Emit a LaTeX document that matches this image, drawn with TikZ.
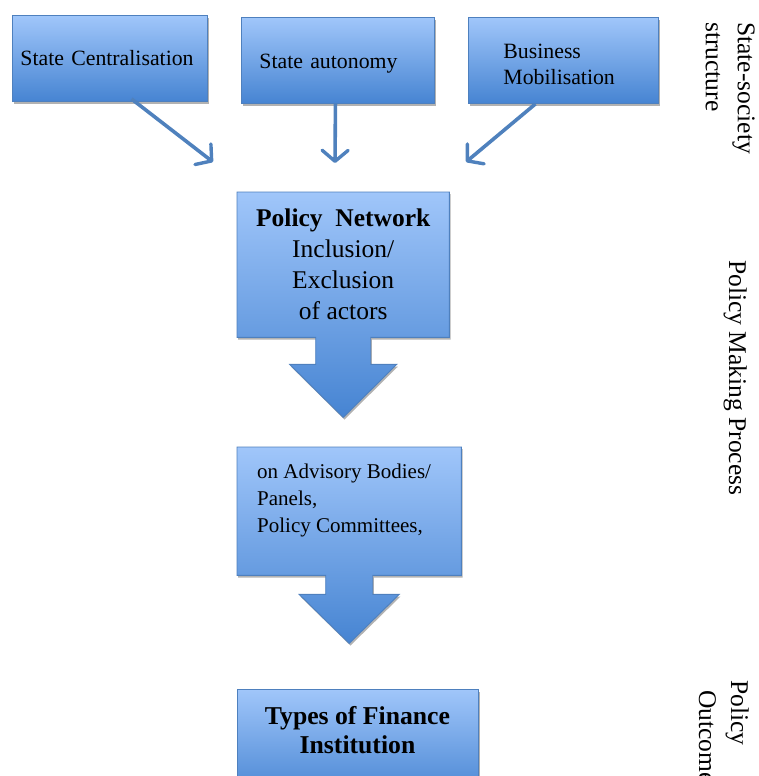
\documentclass[tikz,border=0pt]{standalone}
\usepackage{fontspec}
\setmainfont{Liberation Serif}
\usetikzlibrary{arrows.meta,shadows,calc,backgrounds}
\definecolor{boxtop}{RGB}{160,198,250}
\definecolor{boxbot}{RGB}{70,132,210}
\definecolor{boxedge}{RGB}{78,128,190}
\definecolor{arrowblue}{RGB}{79,129,189}
\tikzset{
  softshadow/.style={drop shadow={shadow xshift=1.2pt, shadow yshift=-2.2pt, opacity=0.3, fill=black}},
  bluebox/.style={draw=boxedge, line width=0.9pt, top color=boxtop, bottom color=boxbot, softshadow, inner sep=0pt, anchor=north west},
  callout/.style={draw=boxedge, line width=0.9pt, top color=boxtop, bottom color=boxbot, softshadow},
  linkarrow/.style={draw=arrowblue, line width=3.6pt, -{Straight Barb[length=11pt,width=26pt,line width=3.4pt,round]}},
  sidelabel/.style={rotate=-90, anchor=north west, align=left, inner sep=0pt, font=\fontsize{25.5}{32}\selectfont},
}
\begin{document}
\begin{tikzpicture}[x=1pt,y=-1pt]
\useasboundingbox (0,0) rectangle (758,776);
\clip (0,0) rectangle (758,776);

% top boxes
\node[bluebox, minimum width=195pt, minimum height=86pt, text width=179pt, inner xsep=8pt, align=left, font=\fontsize{21.8}{26}\selectfont] (sc) at (12,15) {State Centralisation};
\node[bluebox, minimum width=193pt, minimum height=86pt, text width=157pt, inner xsep=18pt, align=left, font=\fontsize{21.8}{26}\selectfont] (sa) at (241,17) {\rule{0pt}{20.8pt}State autonomy};
\node[bluebox, minimum width=190pt, minimum height=86pt, text width=120pt, inner xsep=35pt, align=left, font=\fontsize{21.8}{26}\selectfont] (bm) at (468,17) {\rule{0pt}{22.8pt}Business\\Mobilisation};

% arrow end points
\coordinate (e1) at (213,162);
\coordinate (e2) at (335,163);
\coordinate (e3) at (466,162);
\draw[linkarrow] ($(sc.south)+(21.5,-3)$) -- (e1);
\draw[linkarrow] ($(sa.south)+(-2.5,0)$) -- (e2);
\draw[linkarrow] ($(bm.south)+(-28,0)$) -- (e3);

% policy network callout
\node[anchor=north west, minimum width=212pt, minimum height=145pt, inner sep=0pt, align=center, font=\fontsize{25.5}{31}\selectfont] (pn) at (237,192) {\textbf{Policy~ Network}\\Inclusion/\\Exclusion\\of actors};
% advisory bodies callout
\node[anchor=north west, minimum width=224pt, minimum height=128pt, inner sep=0pt] (ab) at (237,447) {};
\node[anchor=north west, inner sep=0pt, align=left, font=\fontsize{21}{27}\selectfont] (abt) at (257,464) {on Advisory Bodies/\\Panels,\\Policy Committees,};

\begin{pgfonlayer}{background}
\path[callout] (pn.north west) -- (pn.north east) -- (pn.south east) -- ($(pn.south)+(27.5,0)$) -- ++(0,27) -- ++(26,0) -- ($(pn.south)+(0,80)$) -- ($(pn.south)+(-53.5,27)$) -- ++(26,0) -- ($(pn.south)+(-27.5,0)$) -- (pn.south west) -- cycle;
\path[callout] (ab.north west) -- (ab.north east) -- (ab.south east) -- ($(ab.south)+(23.5,0)$) -- ++(0,19) -- ++(26.5,0) -- ($(ab.south)+(0,68)$) -- ($(ab.south)+(-50,19)$) -- ++(26.5,0) -- ($(ab.south)+(-23.5,0)$) -- (ab.south west) -- cycle;
\end{pgfonlayer}

% outcome box
\node[bluebox, minimum width=241pt, minimum height=110pt] (fi) at (237,689) {};
\node[align=center, inner sep=0pt, font=\bfseries\fontsize{25.7}{29}\selectfont] (fit) at (357.5,730.5) {Types of Finance\\Institution};

% side labels
\node[sidelabel] (l1) at (755,22) {State-society\\structure};
\node[sidelabel] (l2) at (747,260) {Policy Making Process};
\node[sidelabel] (l3) at (749,680) {Policy\\\hspace{10pt}Outcome};
\end{tikzpicture}
\end{document}
